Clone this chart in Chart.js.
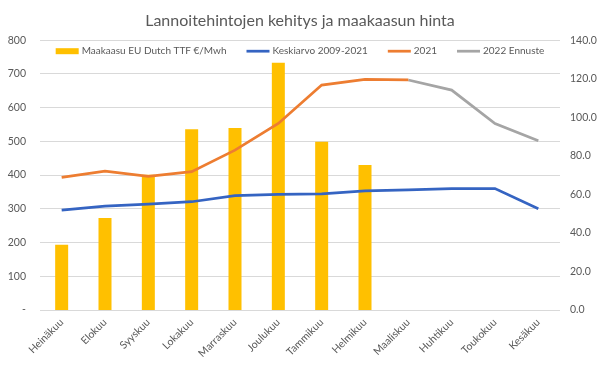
<!DOCTYPE html>
<html>
<head>
<meta charset="utf-8">
<script src="https://cdn.jsdelivr.net/npm/chart.js@4.4.1/dist/chart.umd.min.js"></script>
<style>
  html, body { margin: 0; padding: 0; background: #fff; }
  #wrap { width: 600px; height: 365px; }
</style>
</head>
<body>
<div id="wrap"><canvas id="chart" width="600" height="365"></canvas></div>
<script>
// Kuukaudet
var months = ['Heinäkuu', 'Elokuu', 'Syyskuu', 'Lokakuu', 'Marraskuu', 'Joulukuu',
    'Tammikuu', 'Helmikuu', 'Maaliskuu', 'Huhtikuu', 'Toukokuu', 'Kesäkuu'];

// Maakaasu EU Dutch TTF €/Mwh (oikea akseli)
var gasPrice = [33.8, 47.8, 70.2, 93.8, 94.5, 128.3, 87.3, 75.2, null, null, null, null];

// Lannoitehinnat (vasen akseli)
var avg2009_2021 = [296, 308, 314, 321, 339, 343, 344, 353, 356, 360, 360, 300];
var prices2021 = [393, 412, 396, 410, 474, 553, 667, 684, 682, null, null, null];
var forecast2022 = [null, null, null, null, null, null, null, null, 682, 652, 553, 502];

var leftTicks = { min: 0, max: 800, step: 100 };
var rightTicks = { min: 0, max: 140, step: 20 };

var textColor = '#595959';
var fontFamily = 'Lato, "Open Sans", sans-serif';

// Selite piirretään kaavioalueen sisään, kuten Excelissä
var insideLegend = {
    id: 'insideLegend',
    afterDraw: function (chart) {
        var ctx = chart.ctx;
        var area = chart.chartArea;
        var items = chart.data.datasets.map(function (ds) {
            return { text: ds.label, color: ds.borderColor || ds.backgroundColor, bar: ds.type === 'bar' };
        });
        // järjestys: palkki ensin
        items.sort(function (a, b) { return (b.bar ? 1 : 0) - (a.bar ? 1 : 0); });
        ctx.save();
        ctx.font = '10px ' + fontFamily;
        var symW = 23, symGap = 3, itemGap = 20;
        var total = 0;
        items.forEach(function (it) {
            it.w = symW + symGap + ctx.measureText(it.text).width;
            total += it.w;
        });
        total += itemGap * (items.length - 1);
        var x = (area.left + area.right) / 2 - total / 2;
        var y = area.top + 11;
        ctx.textBaseline = 'middle';
        ctx.textAlign = 'left';
        items.forEach(function (it) {
            if (it.bar) {
                ctx.fillStyle = it.color;
                ctx.fillRect(x, y - 3, symW, 6);
            } else {
                ctx.strokeStyle = it.color;
                ctx.lineWidth = 2.75;
                ctx.beginPath();
                ctx.moveTo(x, y);
                ctx.lineTo(x + symW, y);
                ctx.stroke();
            }
            ctx.fillStyle = textColor;
            ctx.fillText(it.text, x + symW + symGap, y);
            x += it.w + itemGap;
        });
        ctx.restore();
    }
};

var ctx = document.getElementById('chart').getContext('2d');
var chart = new Chart(ctx, {
    data: {
        labels: months,
        datasets: [
            {
                type: 'line',
                label: 'Keskiarvo 2009-2021',
                data: avg2009_2021,
                borderColor: '#3564C2',
                borderWidth: 2.75,
                pointRadius: 0,
                yAxisID: 'y',
                order: 1
            },
            {
                type: 'line',
                label: '2021',
                data: prices2021,
                borderColor: '#ED7D31',
                borderWidth: 2.75,
                pointRadius: 0,
                yAxisID: 'y',
                order: 1
            },
            {
                type: 'line',
                label: '2022 Ennuste',
                data: forecast2022,
                borderColor: '#A5A5A5',
                borderWidth: 2.75,
                pointRadius: 0,
                yAxisID: 'y',
                order: 1
            },
            {
                type: 'bar',
                label: 'Maakaasu EU Dutch TTF €/Mwh',
                data: gasPrice,
                backgroundColor: '#FFC000',
                barPercentage: 0.3,
                categoryPercentage: 1,
                yAxisID: 'y1',
                order: 2
            }
        ]
    },
    options: {
        responsive: false,
        animation: false,
        layout: { padding: { left: 0, right: 0, top: 0, bottom: 0 } },
        plugins: {
            legend: { display: false },
            tooltip: { enabled: false },
            title: {
                display: true,
                text: 'Lannoitehintojen kehitys ja maakaasun hinta',
                color: textColor,
                font: { family: fontFamily, size: 16, weight: 'normal' },
                padding: { top: 11, bottom: 10 }
            }
        },
        scales: {
            x: {
                grid: { display: false, drawTicks: false },
                border: { display: false },
                ticks: {
                    color: textColor,
                    font: { family: fontFamily, size: 10.5 },
                    minRotation: 45,
                    maxRotation: 45,
                    autoSkip: false,
                    padding: 6
                },
                afterFit: function (scale) { scale.height = 55; }
            },
            y: {
                position: 'left',
                min: leftTicks.min,
                max: leftTicks.max,
                grid: { color: '#D9D9D9', lineWidth: 1, drawTicks: false },
                border: { display: false },
                ticks: {
                    stepSize: leftTicks.step,
                    color: textColor,
                    font: { family: fontFamily, size: 10.5 },
                    padding: 14,
                    callback: function (v) { return v === 0 ? '-' : v; }
                },
                afterFit: function (scale) { scale.width = 40; }
            },
            y1: {
                position: 'right',
                min: rightTicks.min,
                max: rightTicks.max,
                grid: { display: false, drawTicks: false },
                border: { display: false },
                ticks: {
                    stepSize: rightTicks.step,
                    color: textColor,
                    font: { family: fontFamily, size: 10.5 },
                    padding: 10,
                    callback: function (v) { return v.toFixed(1); }
                },
                afterFit: function (scale) { scale.width = 40; }
            }
        }
    },
    plugins: [insideLegend]
});
</script>
</body>
</html>
